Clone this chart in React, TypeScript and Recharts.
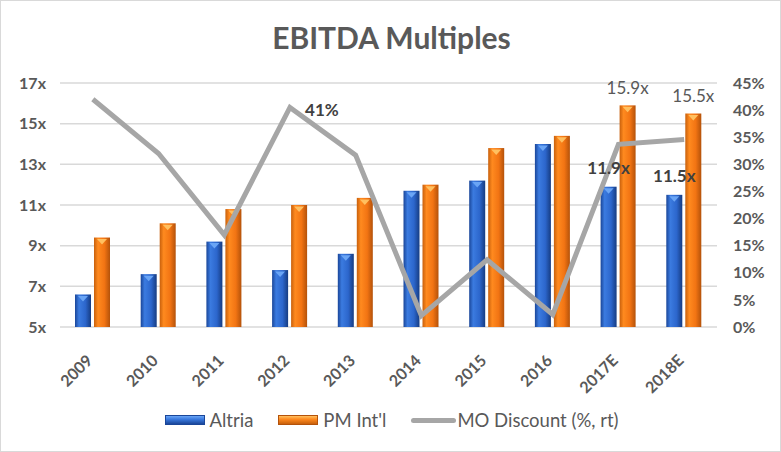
import React from "react";
import { ComposedChart, Bar, Line, XAxis, YAxis, CartesianGrid, LabelList } from "recharts";

const categories = ["2009", "2010", "2011", "2012", "2013", "2014", "2015", "2016", "2017E", "2018E"];
const altria = [6.6, 7.6, 9.2, 7.8, 8.6, 11.7, 12.2, 14.0, 11.9, 11.5];
const pmIntl = [9.4, 10.1, 10.8, 11.0, 11.35, 12.0, 13.8, 14.4, 15.9, 15.5];
const moDiscount = [0.42, 0.32, 0.17, 0.405, 0.317, 0.021, 0.124, 0.023, 0.337, 0.346];
const altriaLabels = ["", "", "", "", "", "", "", "", "11.9x", "11.5x"];
const pmLabels = ["", "", "", "", "", "", "", "", "15.9x", "15.5x"];
const discountLabels = ["", "", "", "41%", "", "", "", "", "", ""];
const leftTicks = [5, 7, 9, 11, 13, 15, 17];
const rightTicks = [0, 0.05, 0.1, 0.15, 0.2, 0.25, 0.3, 0.35, 0.4, 0.45];

const data = categories.map((c, i) => ({
  cat: c,
  altria: altria[i],
  pm: pmIntl[i],
  disc: moDiscount[i],
  aLab: altriaLabels[i],
  pLab: pmLabels[i],
  dLab: discountLabels[i],
}));

const FONT = "Lato, 'Open Sans', sans-serif";
const TXT = "#595959";

const BarShape = (fillId: string, tri: string) => (props: any) => {
  const { x, y, width, height } = props;
  if (height <= 0) return null;
  return (
    <g>
      <rect x={x} y={y} width={width} height={height} fill={`url(#${fillId})`} />
      <polygon
        points={`${x + 3},${y + 1.5} ${x + width - 3},${y + 1.5} ${x + width / 2},${y + 7}`}
        fill={tri}
      />
    </g>
  );
};

const XTick = (props: any) => {
  const { x, y, payload } = props;
  return (
    <text
      transform={`translate(${x - 4},${y + 22}) rotate(-45)`}
      textAnchor="end"
      dominantBaseline="central"
      fontFamily={FONT}
      fontWeight="bold"
      fontSize={16}
      fill={TXT}
    >
      {payload.value}
    </text>
  );
};

const LabelText = (dx: number, dy: number, bold: boolean, color: string) => (props: any) => {
  const { x, y, width, value } = props;
  if (!value) return null;
  const cx = width !== undefined ? x + width / 2 : x;
  return (
    <text
      x={cx + dx}
      y={y + dy}
      textAnchor="middle"
      dominantBaseline="central"
      fontFamily={FONT}
      fontWeight={bold ? "bold" : "normal"}
      fontSize={17}
      fill={color}
    >
      {value}
    </text>
  );
};

const legendItems = [
  { name: "Altria", type: "blue" },
  { name: "PM Int'l", type: "orange" },
  { name: "MO Discount (%, rt)", type: "line" },
];

export default function App() {
  return (
    <div
      style={{
        position: "absolute",
        left: 0,
        top: 0,
        width: 781,
        height: 452,
        boxSizing: "border-box",
        border: "1px solid #d9d9d9",
        background: "#fff",
        fontFamily: FONT,
      }}
    >
      <div
        style={{
          position: "absolute",
          left: 0,
          top: 18,
          width: 781,
          textAlign: "center",
          fontSize: 30,
          lineHeight: "36px",
          fontWeight: "bold",
          color: TXT,
        }}
      >
        EBITDA Multiples
      </div>
      <div style={{ position: "absolute", left: -1, top: -1 }}>
        <ComposedChart
          width={781}
          height={452}
          data={data}
          margin={{ top: 83, right: 0, bottom: 0, left: 0 }}
          barGap={3}
          barCategoryGap="23%"
        >
          <defs>
            <linearGradient id="gBlue" x1="0" y1="0" x2="1" y2="0">
              <stop offset="0%" stopColor="#1a4699" />
              <stop offset="25%" stopColor="#3b7be0" />
              <stop offset="65%" stopColor="#2c66cc" />
              <stop offset="100%" stopColor="#163c82" />
            </linearGradient>
            <linearGradient id="gOrange" x1="0" y1="0" x2="1" y2="0">
              <stop offset="0%" stopColor="#c8600c" />
              <stop offset="25%" stopColor="#ff8a1f" />
              <stop offset="65%" stopColor="#f27413" />
              <stop offset="100%" stopColor="#b4520a" />
            </linearGradient>
          </defs>
          <CartesianGrid vertical={false} stroke="#d9d9d9" strokeWidth={1.5} yAxisId="left" />
          <XAxis
            dataKey="cat"
            axisLine={false}
            tickLine={false}
            height={125}
            interval={0}
            tick={<XTick />}
          />
          <YAxis
            yAxisId="left"
            orientation="left"
            width={60}
            domain={[5, 17]}
            ticks={leftTicks}
            axisLine={false}
            tickLine={false}
            tickFormatter={(v: number) => `${v}x`}
            tick={{ fill: TXT, fontSize: 16, fontWeight: "bold", fontFamily: FONT }}
            tickMargin={8}
          />
          <YAxis
            yAxisId="right"
            orientation="right"
            width={64}
            domain={[0, 0.45]}
            ticks={rightTicks}
            axisLine={false}
            tickLine={false}
            tickFormatter={(v: number) => `${Math.round(v * 100)}%`}
            tick={{ fill: TXT, fontSize: 16, fontWeight: "bold", fontFamily: FONT }}
            tickMargin={10}
          />
          <Bar
            yAxisId="left"
            dataKey="altria"
            name="Altria"
            barSize={16}
            shape={BarShape("gBlue", "#6aa5f5")}
            isAnimationActive={false}
          >
            <LabelList dataKey="aLab" content={LabelText(0, -19, true, "#404040")} />
          </Bar>
          <Bar
            yAxisId="left"
            dataKey="pm"
            name="PM Int'l"
            barSize={16}
            shape={BarShape("gOrange", "#ffc060")}
            isAnimationActive={false}
          >
            <LabelList dataKey="pLab" content={LabelText(0, -18, false, TXT)} />
          </Bar>
          <Line
            yAxisId="right"
            dataKey="disc"
            name="MO Discount (%, rt)"
            stroke="#a6a6a6"
            strokeWidth={5}
            dot={false}
            activeDot={false}
            isAnimationActive={false}
          >
            <LabelList dataKey="dLab" content={LabelText(32, 2, true, "#404040")} />
          </Line>
        </ComposedChart>
      </div>
      <div
        style={{
          position: "absolute",
          left: 0,
          top: 407,
          width: 781,
          display: "flex",
          justifyContent: "center",
          alignItems: "center",
          fontSize: 18.5,
          lineHeight: "24px",
          color: TXT,
        }}
      >
        {legendItems.map((it, i) => (
          <div
            key={it.name}
            style={{ display: "flex", alignItems: "center", marginRight: i < legendItems.length - 1 ? 25 : 0 }}
          >
            {it.type === "line" ? (
              <div style={{ width: 45, height: 5, background: "#a6a6a6", borderRadius: 3, marginRight: 1 }} />
            ) : (
              <div
                style={{
                  width: 40,
                  height: 10,
                  marginRight: 5,
                  boxSizing: "border-box",
                  background:
                    it.type === "blue"
                      ? "linear-gradient(#6aa5f5 0%, #3b7be0 40%, #1a4699 100%)"
                      : "linear-gradient(#ffc060 0%, #ff8a1f 40%, #c8600c 100%)",
                  border: it.type === "blue" ? "1px solid #1a4699" : "1px solid #b4520a",
                }}
              />
            )}
            <span>{it.name}</span>
          </div>
        ))}
      </div>
    </div>
  );
}
